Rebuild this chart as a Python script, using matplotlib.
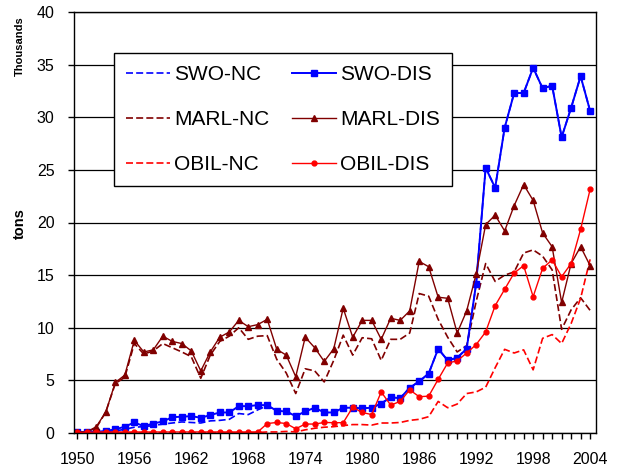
import numpy as np
import matplotlib.pyplot as plt
from matplotlib.ticker import MultipleLocator

plt.rcParams["font.family"] = ["Liberation Sans", "DejaVu Sans"]

years = list(range(1950, 2005))

# catches in thousand tons
swo_dis = [0.1, 0.1, 0.1, 0.2, 0.35, 0.6, 1.0, 0.65, 0.9, 1.1,
           1.5, 1.55, 1.6, 1.45, 1.7, 1.95, 1.95, 2.55, 2.55, 2.65,
           2.65, 2.1, 2.05, 1.6, 2.05, 2.4, 1.95, 1.95, 2.4, 2.4,
           2.35, 2.4, 2.8, 3.4, 3.3, 4.3, 4.9, 5.65, 8.0, 6.9,
           7.15, 8.0, 14.2, 25.2, 23.3, 29.0, 32.3, 32.3, 34.7, 32.75,
           33.0, 28.1, 30.9, 33.9, 30.6]
swo_nc = [0.05, 0.05, 0.05, 0.1, 0.2, 0.35, 0.55, 0.6, 0.7, 0.85,
          0.95, 1.05, 1.0, 0.95, 1.15, 1.2, 1.3, 1.85, 1.75, 2.2,
          2.6, 2.1, 2.05, 1.6, 2.05, 2.4, 1.95, 1.95, 2.4, 2.4,
          2.35, 2.4, 2.8, 3.4, 3.3, 4.3, 4.9, 5.65, 8.0, 6.9,
          7.15, 8.0, 14.2, 25.2, 23.3, 29.0, 32.3, 32.3, 34.7, 32.75,
          33.0, 28.1, 30.9, 33.9, 30.6]
marl_dis = [0.1, 0.1, 0.6, 2.0, 4.8, 5.5, 8.8, 7.7, 7.9, 9.2,
            8.7, 8.5, 7.8, 5.9, 7.7, 9.1, 9.6, 10.7, 10.1, 10.3,
            10.8, 7.95, 7.4, 5.35, 9.1, 8.1, 6.8, 8.0, 11.85, 9.1,
            10.7, 10.7, 8.9, 10.9, 10.7, 11.6, 16.3, 15.8, 12.9, 12.8,
            9.5, 11.6, 15.1, 19.8, 20.7, 19.2, 21.6, 23.6, 22.1, 19.0,
            17.7, 12.4, 16.1, 17.7, 15.9]
marl_nc = [0.1, 0.1, 0.5, 2.0, 4.7, 5.3, 8.5, 7.5, 7.8, 8.5,
           8.1, 7.7, 7.25, 5.2, 7.4, 8.7, 9.2, 10.0, 8.9, 9.2,
           9.25, 7.0, 5.7, 3.75, 6.1, 5.9, 4.85, 6.9, 9.3, 7.4,
           9.05, 8.95, 6.9, 8.9, 8.9, 9.5, 13.25, 13.0, 10.8, 9.1,
           7.7, 8.3, 12.5, 16.1, 14.4, 15.0, 15.3, 17.1, 17.4, 16.8,
           15.5, 9.85, 11.7, 12.85, 11.65]
obil_dis = [0.05, 0.05, 0.1, 0.1, 0.1, 0.1, 0.1, 0.1, 0.1, 0.1,
            0.1, 0.1, 0.1, 0.1, 0.1, 0.1, 0.1, 0.1, 0.1, 0.1,
            0.9, 1.0, 0.9, 0.4, 0.85, 0.85, 1.0, 0.98, 0.98, 2.45,
            1.95, 1.75, 3.9, 2.65, 3.0, 4.1, 3.45, 3.5, 5.1, 6.65,
            6.85, 7.6, 8.4, 9.6, 12.1, 13.65, 15.2, 15.9, 12.95, 15.65,
            16.45, 14.85, 16.1, 19.35, 23.15]
obil_nc = [0.0, 0.0, 0.0, 0.0, 0.02, 0.02, 0.02, 0.02, 0.02, 0.02,
           0.02, 0.02, 0.02, 0.02, 0.02, 0.02, 0.02, 0.02, 0.02, 0.05,
           0.1, 0.1, 0.15, 0.1, 0.3, 0.45, 0.55, 0.6, 0.7, 0.8,
           0.8, 0.75, 0.95, 0.95, 1.0, 1.2, 1.3, 1.55, 3.0, 2.4,
           2.75, 3.75, 3.9, 4.35, 6.2, 7.95, 7.6, 7.9, 6.0, 9.0,
           9.35, 8.5, 10.4, 12.8, 16.5]

BLUE = "#0000ff"
MARL = "#800000"
RED = "#ff0000"
dash = (0, (4.2, 1.9))

fig = plt.figure(figsize=(6.21, 4.68), dpi=100)
ax = fig.add_axes([74 / 621, 35 / 468, 522 / 621, 421 / 468])

ax.plot(years, swo_nc, c=BLUE, lw=1.2, ls=dash, label="SWO-NC")
ax.plot(years, marl_nc, c=MARL, lw=1.2, ls=dash, label="MARL-NC")
ax.plot(years, obil_nc, c=RED, lw=1.2, ls=dash, label="OBIL-NC")
ax.plot(years, swo_dis, c=BLUE, lw=1.4, marker="s", ms=5, label="SWO-DIS")
ax.plot(years, marl_dis, c=MARL, lw=1.0, marker="^", ms=4.5, label="MARL-DIS")
ax.plot(years, obil_dis, c=RED, lw=1.0, marker="o", ms=3.5, label="OBIL-DIS")

ax.set_xlim(1949.65, 2004.62)
ax.set_ylim(0, 40)
ax.yaxis.set_major_locator(MultipleLocator(5))
ax.set_xticks(years)
ax.set_xticklabels([str(y) if (y - 1950) % 6 == 0 else "" for y in years])
ax.tick_params(axis="x", direction="out", length=4, width=1, labelsize=11.5, pad=10)
ax.tick_params(axis="y", direction="out", length=4, width=1, labelsize=11.5, pad=10)
ax.grid(axis="y", color="black", lw=0.9)
ax.set_axisbelow(True)
for s in ax.spines.values():
    s.set_color("black")
    s.set_linewidth(1)

fig.text(20 / 621, 1 - 46 / 468, "Thousands", rotation=90, fontsize=8,
         fontweight="bold", ha="center", va="center")
fig.text(20 / 621, 1 - 224 / 468, "tons", rotation=90, fontsize=10.5,
         fontweight="bold", ha="center", va="center")

leg = ax.legend(ncol=2, loc="upper left", bbox_to_anchor=(114 / 621, 1 - 53 / 468),
                bbox_transform=fig.transFigure, fontsize=15, numpoints=1,
                frameon=True, fancybox=False, edgecolor="black",
                handlelength=2.1, handletextpad=0.2, columnspacing=1.1,
                labelspacing=1.25, borderpad=0.58, borderaxespad=0)
leg.get_frame().set_linewidth(1)
leg.get_frame().set_alpha(1)

fig.savefig("out.png", dpi=100)
